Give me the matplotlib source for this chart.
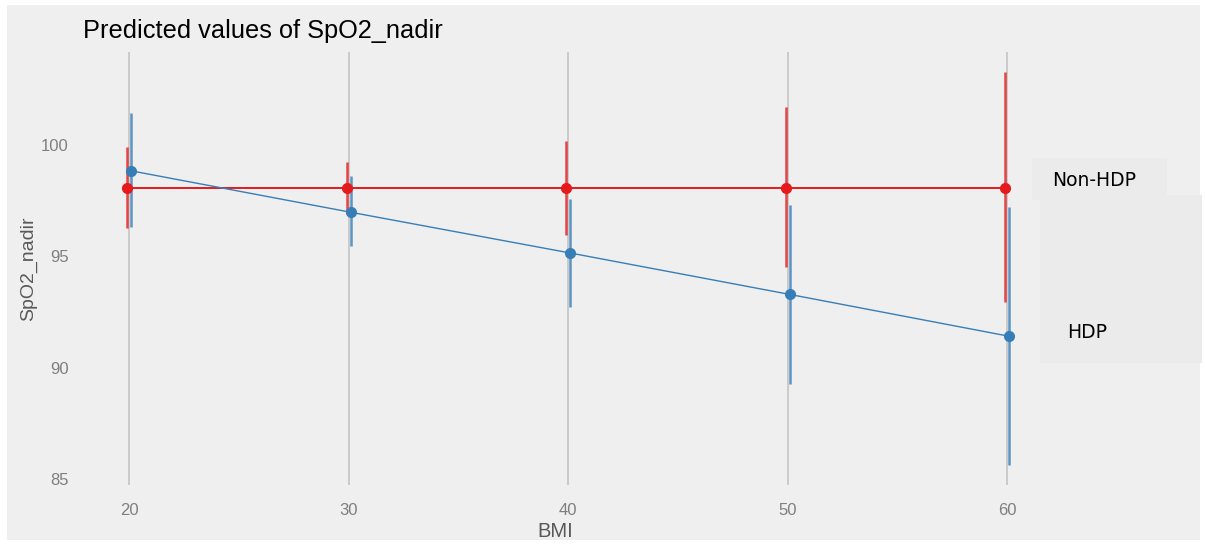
import numpy as np
import matplotlib
matplotlib.use("Agg")
import matplotlib.pyplot as plt
from matplotlib.patches import Rectangle

# predicted SpO2 nadir by BMI, with 95% CI, per group
bmi = [20, 30, 40, 50, 60]

non_hdp_fit = [98.06, 98.06, 98.06, 98.06, 98.06]
non_hdp_lo = [96.27, 96.90, 95.98, 94.52, 92.95]
non_hdp_hi = [99.93, 99.22, 100.18, 101.70, 103.26]

hdp_fit = [98.84, 96.98, 95.15, 93.29, 91.41]
hdp_lo = [96.32, 95.45, 92.72, 89.27, 85.62]
hdp_hi = [101.43, 98.60, 97.57, 97.30, 97.22]

groups = ["Non-HDP", "HDP"]
colors = ["#e41a1c", "#377eb8"]

BG = "#efefef"
W, H = 1205, 545

fig = plt.figure(figsize=(W / 100, H / 100), dpi=100, facecolor="white")
# grey panel behind everything
fig.patches.append(Rectangle((7 / W, 5 / H), 1193 / W, 535 / H,
                             transform=fig.transFigure, facecolor=BG,
                             edgecolor="none", zorder=-10))

ax = fig.add_axes([80 / W, 1 - 485 / H, (1030 - 80) / W, (485 - 52) / H])
ax.set_facecolor(BG)
ax.patch.set_alpha(0)

px_x = (1007 - 129) / 40.0
ax.set_xlim(20 - (129 - 80) / px_x, 60 + (1030 - 1007) / px_x)
px_y = (479 - 145) / 15.0
ax.set_ylim(85 - (485 - 479) / px_y, 100 + (145 - 52) / px_y)

for s in ax.spines.values():
    s.set_visible(False)

ax.set_xticks(bmi)
ax.set_yticks([85, 90, 95, 100])
ax.tick_params(axis="both", length=0, labelsize=12, labelcolor="#7f7f7f")
ax.tick_params(axis="y", pad=8)
ax.tick_params(axis="x", pad=13)
ax.grid(axis="x", color="#c4c4c4", linewidth=1.2)
ax.set_axisbelow(True)

x = np.array(bmi, dtype=float)
dodge = [-0.08, 0.1]
series = [(non_hdp_fit, non_hdp_lo, non_hdp_hi), (hdp_fit, hdp_lo, hdp_hi)]
for (fit, lo, hi), c, d, lw in zip(series, colors, dodge, [1.4, 1.0]):
    xs = x + d
    ax.vlines(xs, lo, hi, color=c, linewidth=1.8, alpha=0.8, zorder=3)
    ax.plot(xs, fit, color=c, linewidth=lw, zorder=4)
    ax.plot(xs, fit, "o", color=c, markersize=7, zorder=5)

ax.set_xlabel("BMI", fontsize=14.5, color="#595959", family="Liberation Sans",
              labelpad=3)
ax.set_ylabel("SpO2_nadir", fontsize=14, color="#595959",
              family="Liberation Sans", labelpad=3)
for lab in ax.get_xticklabels() + ax.get_yticklabels():
    lab.set_family("Liberation Sans")

fig.text(83 / W, 1 - 31 / H, "Predicted values of SpO2_nadir", fontsize=18.3,
         family="Liberation Sans", color="black", va="center", ha="left")

# group labels on the right
fig.patches.append(Rectangle((1040 / W, 1 - 363 / H), 162 / W, 168 / H,
                             transform=fig.transFigure, facecolor="#ebebeb",
                             edgecolor="none", zorder=-5))
fig.patches.append(Rectangle((1032 / W, 1 - 200 / H), 135 / W, 42 / H,
                             transform=fig.transFigure, facecolor="#ebebeb",
                             edgecolor="none", zorder=-4))
fig.text(1052 / W, 1 - 180 / H, groups[0], fontsize=13.5, family="DejaVu Sans",
         va="center", ha="left")
fig.text(1067 / W, 1 - 333 / H, groups[1], fontsize=13.5, family="DejaVu Sans",
         va="center", ha="left")

fig.savefig("out.png", dpi=100, facecolor="white")
